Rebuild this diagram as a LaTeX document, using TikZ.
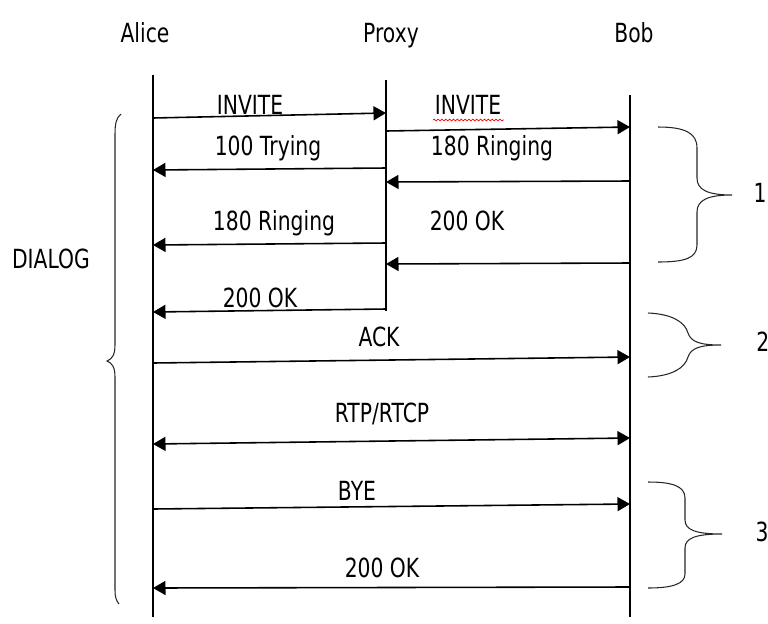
\documentclass[tikz,border=0pt]{standalone}
\usepackage{fontspec}
\setmainfont[FakeStretch=0.77]{DejaVu Sans}
\usetikzlibrary{arrows.meta, decorations.pathmorphing}

\begin{document}
\begin{tikzpicture}[
    x=0.02cm, y=-0.02cm,
    life/.style={draw=black, line width=0.6pt},
    msg/.style={-{Triangle[length=0.25cm, width=0.28cm]}, line width=0.9pt},
    twoway/.style={{Triangle[length=0.25cm, width=0.28cm]}-{Triangle[length=0.25cm, width=0.28cm]}, line width=0.9pt},
    lbl/.style={anchor=base, inner sep=0pt, font=\fontsize{15}{18}\selectfont},
    curly/.style={draw=black!85, line width=0.6pt}
]
    \useasboundingbox (0,0) rectangle (768,623);

    % actors and lifelines
    \node[lbl] (alice) at (145,42) {Alice};
    \node[lbl] (proxy) at (391,42) {Proxy};
    \node[lbl] (bob) at (634,42) {Bob};
    \coordinate (aliceTop) at (153,75);
    \coordinate (aliceEnd) at (153,617);
    \coordinate (proxyTop) at (386,80);
    \coordinate (proxyEnd) at (386,311);
    \coordinate (bobTop) at (630,95);
    \coordinate (bobEnd) at (630,617);
    \draw[life] (aliceTop) -- (aliceEnd);
    \draw[life] (proxyTop) -- (proxyEnd);
    \draw[life] (bobTop) -- (bobEnd);

    % message end points
    \coordinate (a1) at (153,118);  \coordinate (p1) at (386,113);
    \coordinate (p2) at (386,131);  \coordinate (b2) at (630,127);
    \coordinate (p3) at (386,168);  \coordinate (a3) at (153,170);
    \coordinate (b4) at (630,181);  \coordinate (p4) at (386,182);
    \coordinate (p5) at (386,243);  \coordinate (a5) at (153,245);
    \coordinate (b6) at (630,263);  \coordinate (p6) at (386,264);
    \coordinate (p7) at (386,309);  \coordinate (a7) at (153,312);
    \coordinate (a8) at (153,363);  \coordinate (b8) at (630,357);
    \coordinate (a9) at (153,444);  \coordinate (b9) at (630,438);
    \coordinate (a10) at (153,509); \coordinate (b10) at (630,504);
    \coordinate (b11) at (630,587); \coordinate (a11) at (153,588);

    % messages
    \draw[msg] (a1) -- (p1);
    \draw[msg] (p2) -- (b2);
    \draw[msg] (p3) -- (a3);
    \draw[msg] (b4) -- (p4);
    \draw[msg] (p5) -- (a5);
    \draw[msg] (b6) -- (p6);
    \draw[msg] (p7) -- (a7);
    \draw[msg] (a8) -- (b8);
    \draw[twoway] (a9) -- (b9);
    \draw[msg] (a10) -- (b10);
    \draw[msg] (b11) -- (a11);

    % labels
    \node[lbl] (invA) at (250,114) {INVITE};
    \node[lbl] (invB) at (468,114) {INVITE};
    \draw[red, line width=0.4pt, decorate, decoration={snake, amplitude=0.5pt, segment length=2.2pt}] (433,120) -- (504,120);
    \node[lbl] (trying) at (268,155) {100 Trying};
    \node[lbl] (ringB) at (492,155) {180 Ringing};
    \node[lbl] (ringA) at (274,230) {180 Ringing};
    \node[lbl] (okB) at (467,230) {200 OK};
    \node[lbl] (okA) at (260,307) {200 OK};
    \node[lbl] (ack) at (379,346) {ACK};
    \node[lbl] (rtp) at (382,422) {RTP/RTCP};
    \node[lbl] (bye) at (357,500) {BYE};
    \node[lbl] (okEnd) at (382,577) {200 OK};
    \node[lbl] (dialog) at (51,268) {DIALOG};

    % braces
    \draw[curly] (121,114) .. controls (116,118) and (115,124) .. (115,135) -- (115,345)
        .. controls (115,355) and (112,359) .. (107,361) .. controls (112,363) and (115,367) .. (115,377)
        -- (115,590) .. controls (115,597) and (116,600) .. (119,604);
    \draw[curly] (658,127) .. controls (685,127) and (697,133) .. (697,148) -- (697,178)
        .. controls (697,190) and (708,195) .. (732,195) .. controls (708,195) and (697,200) .. (697,212)
        -- (697,245) .. controls (697,258) and (685,262) .. (658,262);
    \draw[curly] (648,313) .. controls (672,314) and (685,322) .. (688,333)
        .. controls (691,342) and (700,345) .. (721,345) .. controls (700,345) and (691,348) .. (688,357)
        .. controls (685,368) and (672,376) .. (648,377);
    \draw[curly] (648,482) .. controls (672,482) and (685,486) .. (685,498) -- (685,520)
        .. controls (685,530) and (696,534) .. (722,534) .. controls (696,534) and (685,538) .. (685,548)
        -- (685,574) .. controls (685,584) and (672,588) .. (648,588);
    \node[lbl] (one) at (760,202) {1};
    \node[lbl, anchor=base west] (two) at (756,351) {2};
    \node[lbl] (three) at (762,541) {3};
\end{tikzpicture}
\end{document}
